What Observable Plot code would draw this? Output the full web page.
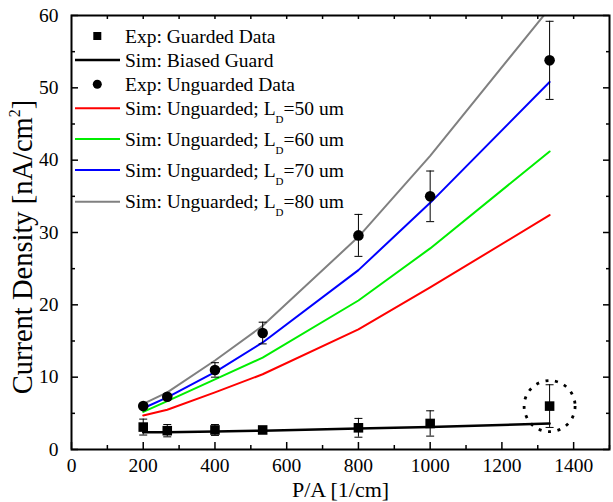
<!DOCTYPE html>
<html><head><meta charset="utf-8">
<script src="https://cdn.jsdelivr.net/npm/d3@7"></script>
<script src="https://cdn.jsdelivr.net/npm/@observablehq/plot@0.6"></script>
<style>
body{margin:0;background:#fff;}
#wrap{width:613px;height:502px;}
</style></head><body><div id="wrap"></div>
<script>
// ---------- data ----------
const pa = [200, 267, 400, 533, 800, 1000, 1333];
const guardedExp = [3.1, 2.6, 2.7, 2.7, 3.0, 3.6, 6.0];
const guardedErr = [1.1, 0.85, 0.75, 0.4, 1.3, 1.75, 2.95];
const biasedGuard = [2.4, 2.4, 2.5, 2.6, 2.9, 3.1, 3.6];
const unguardedExp = [6.0, 7.3, 11.0, 16.1, 29.6, 35.0, 53.8];
const unguardedErr = [0.3, 0.35, 1.0, 1.5, 2.9, 3.5, 5.4];
const simLD50 = [4.7, 5.5, 7.9, 10.4, 16.6, 22.4, 32.4];
const simLD60 = [5.2, 6.7, 9.7, 12.7, 20.6, 27.8, 41.2];
const simLD70 = [5.7, 7.2, 10.7, 14.8, 24.8, 34.1, 50.8];
const simLD80 = [6.3, 7.9, 12.3, 17.1, 29.4, 40.6, 61.0];
const highlightPoint = [{x: 1333, y: 6.0}];
const xMajor = [0, 200, 400, 600, 800, 1000, 1200, 1400];
const xMinor = [100, 300, 500, 700, 900, 1100, 1300, 1500];
const xTop = [100, 200, 300, 400, 500, 600, 700, 800, 900, 1000, 1100, 1200, 1300, 1400];
const yMajor = [0, 10, 20, 30, 40, 50, 60];
const yMinor = [5, 15, 25, 35, 45, 55];
const xLabel = "P/A [1/cm]";
const yLabelParts = ["Current Density [nA/cm", "2", "]"];
const simSeries = [
  {name: "50", values: simLD50, color: "#ff0000"},
  {name: "60", values: simLD60, color: "#00ee00"},
  {name: "70", values: simLD70, color: "#0000ff"},
  {name: "80", values: simLD80, color: "#808080"}
];
const legendEntries = [
  {kind: "square", color: "black", parts: ["Exp: Guarded Data"]},
  {kind: "line", color: "black", parts: ["Sim: Biased Guard"]},
  {kind: "circle", color: "black", parts: ["Exp: Unguarded Data"]},
  {kind: "line", color: "#ff0000", parts: ["Sim: Unguarded; L", "D", "=50 um"]},
  {kind: "line", color: "#00ee00", parts: ["Sim: Unguarded; L", "D", "=60 um"]},
  {kind: "line", color: "#0000ff", parts: ["Sim: Unguarded; L", "D", "=70 um"]},
  {kind: "line", color: "#808080", parts: ["Sim: Unguarded; L", "D", "=80 um"]}
];

// ---------- build tables ----------
const guardedRows = pa.map((x, i) => ({x, y: guardedExp[i], lo: guardedExp[i] - guardedErr[i], hi: guardedExp[i] + guardedErr[i]}));
const unguardedRows = pa.map((x, i) => ({x, y: unguardedExp[i], lo: unguardedExp[i] - unguardedErr[i], hi: unguardedExp[i] + unguardedErr[i]}));
const biasRows = pa.map((x, i) => ({x, y: biasedGuard[i]}));
const simRows = simSeries.flatMap(s => pa.map((x, i) => ({x, y: s.values[i], name: s.name, color: s.color})));

// ---------- layout ----------
const W = 613, H = 502, mT = 15, mB = 53, mL = 71, mR = 4;
const pw = W - mL - mR, ph = H - mT - mB;
const FONT = '"Liberation Serif", "Times New Roman", serif';
const cap = {draw(ctx) { ctx.moveTo(-4, 0); ctx.lineTo(4, 0); }};

const marks = [
  // ticks (inward)
  Plot.tickX(xMajor, {x: d => d, insetTop: ph - 7, stroke: "black", strokeWidth: 1.5}),
  Plot.tickX(xMinor, {x: d => d, insetTop: ph - 4, stroke: "black", strokeWidth: 1.5}),
  Plot.tickX(xTop, {x: d => d, insetBottom: ph - 4, stroke: "black", strokeWidth: 1.5}),
  Plot.tickY(yMajor, {y: d => d, insetRight: pw - 7, stroke: "black", strokeWidth: 1.5}),
  Plot.tickY(yMinor, {y: d => d, insetRight: pw - 4, stroke: "black", strokeWidth: 1.5}),
  Plot.tickY(yMajor, {y: d => d, insetLeft: pw - 6, stroke: "black", strokeWidth: 1.5}),
  Plot.tickY(yMinor, {y: d => d, insetLeft: pw - 3, stroke: "black", strokeWidth: 1.5}),
  Plot.axisX({ticks: xMajor, tickSize: 0, tickPadding: 9, label: null, fontSize: 19.5, tickFormat: d => String(d)}),
  Plot.axisY({ticks: yMajor, tickSize: 0, tickPadding: 13, label: null, fontSize: 19.5, tickFormat: d => String(d)}),
  Plot.text([xLabel], {frameAnchor: "bottom", dy: 47, lineAnchor: "bottom", textAnchor: "middle", fontSize: 22, text: d => d}),
  // simulations
  Plot.line(simRows, {x: "x", y: "y", z: "name", stroke: "color", strokeWidth: 2, clip: true}),
  Plot.line(biasRows, {x: "x", y: "y", stroke: "black", strokeWidth: 2.5}),
  // error bars
  Plot.ruleX(guardedRows, {x: "x", y1: "lo", y2: "hi", stroke: "black", strokeWidth: 1}),
  Plot.dot(guardedRows, {x: "x", y: "lo", symbol: cap, fill: "none", stroke: "black", strokeWidth: 1}),
  Plot.dot(guardedRows, {x: "x", y: "hi", symbol: cap, fill: "none", stroke: "black", strokeWidth: 1}),
  Plot.ruleX(unguardedRows, {x: "x", y1: "lo", y2: "hi", stroke: "black", strokeWidth: 1}),
  Plot.dot(unguardedRows, {x: "x", y: "lo", symbol: cap, fill: "none", stroke: "black", strokeWidth: 1}),
  Plot.dot(unguardedRows, {x: "x", y: "hi", symbol: cap, fill: "none", stroke: "black", strokeWidth: 1}),
  // markers
  Plot.dot(guardedRows, {x: "x", y: "y", symbol: "square", r: 5.4, fill: "black", stroke: "none"}),
  Plot.dot(unguardedRows, {x: "x", y: "y", symbol: "circle", r: 5.3, fill: "black", stroke: "none"}),
  Plot.dot(highlightPoint, {x: "x", y: "y", r: 25.5, fill: "none", stroke: "black", strokeWidth: 2.8, strokeDasharray: "3,6.6"}),
  Plot.frame({stroke: "black", strokeWidth: 2})
];

const svg = Plot.plot({
  width: W, height: H, marginTop: mT, marginBottom: mB, marginLeft: mL, marginRight: mR,
  x: {domain: [0, 1500]},
  y: {domain: [0, 60]},
  style: {fontFamily: FONT, fontSize: "19.5px", background: "white", color: "black"},
  marks
});
document.getElementById("wrap").append(svg);

// ---------- y-axis title (with superscript) ----------
const yt = d3.select(svg).append("text")
  .attr("font-family", FONT).attr("font-size", 28.5).attr("fill", "black")
  .attr("text-anchor", "middle")
  .attr("transform", "translate(32,247) rotate(-90)");
yt.append("tspan").text(yLabelParts[0]);
yt.append("tspan").attr("font-size", 16).attr("dy", -12).text(yLabelParts[1]);
yt.append("tspan").attr("dy", 12).text(yLabelParts[2]);

// ---------- legend ----------
const rowY = [36, 60, 84.3, 108.3, 139, 170, 201.7];
const g = d3.select(svg).append("g").attr("font-family", FONT).attr("font-size", 19.5)
  .attr("fill", "black").attr("text-anchor", "start");
legendEntries.forEach((e, i) => {
  const y = rowY[i];
  if (e.kind === "line") {
    g.append("line").attr("x1", 75).attr("x2", 120).attr("y1", y).attr("y2", y)
      .attr("stroke", e.color).attr("stroke-width", e.color === "black" ? 2.5 : 2);
  } else if (e.kind === "square") {
    g.append("rect").attr("x", 97.3 - 4).attr("y", y - 4).attr("width", 8).attr("height", 8).attr("fill", e.color);
  } else {
    g.append("circle").attr("cx", 97.3).attr("cy", y).attr("r", 4.5).attr("fill", e.color);
  }
  const t = g.append("text").attr("x", 125).attr("y", y + 6.5).attr("text-anchor", "start");
  t.append("tspan").text(e.parts[0]);
  if (e.parts.length > 1) {
    t.append("tspan").attr("font-size", 11).attr("dy", 8).text(e.parts[1]);
    t.append("tspan").attr("dy", -8).text(e.parts[2]);
  }
});
</script>
</body></html>
